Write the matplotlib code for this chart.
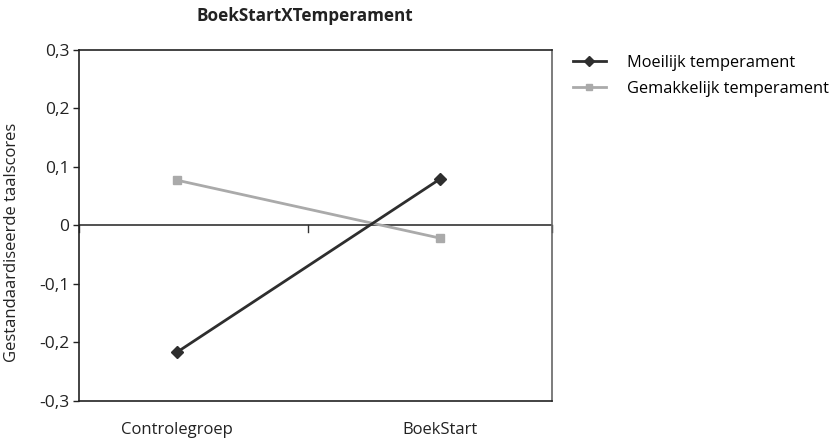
import matplotlib
matplotlib.use("Agg")
import matplotlib.pyplot as plt
from matplotlib.lines import Line2D

plt.rcParams['font.family'] = ['Open Sans', 'DejaVu Sans']

categories = ["Controlegroep", "BoekStart"]
moeilijk = [-0.217, 0.079]
gemakkelijk = [0.077, -0.022]
yticks = [-0.3, -0.2, -0.1, 0.0, 0.1, 0.2, 0.3]
ytick_labels = ["-0,3", "-0,2", "-0,1", "0", "0,1", "0,2", "0,3"]
title = "BoekStartXTemperament"
ylabel = "Gestandaardiseerde taalscores"

W, H = 836, 441
fig = plt.figure(figsize=(W / 100, H / 100), dpi=100)
ax = fig.add_axes([79 / W, 1 - 401 / H, (552 - 79) / W, (401 - 49.5) / H])

dark = "#2e2e2e"
gray = "#aaaaaa"
x = list(range(len(categories)))
ax.plot(x, moeilijk, color=dark, lw=2, marker="D", ms=6, zorder=4)
ax.plot(x, gemakkelijk, color=gray, lw=2, marker="s", ms=6, zorder=3)

ax.set_xlim(-0.371, 1.425)
ax.set_ylim(-0.3, 0.3)

# zero line with category tick marks
ax.axhline(0, color="#333333", lw=1.2, zorder=2)
for tx in [-0.371, 0.5, 1.425]:
    ax.plot([tx, tx], [0, -0.012], color="#333333", lw=1, zorder=2, clip_on=False)

ax.set_yticks(yticks)
ax.set_yticklabels(ytick_labels, fontsize=12.5, color="#222222")
ax.tick_params(axis="y", direction="out", length=4, width=1, color="#222222", pad=3)
ax.set_xticks(x)
ax.set_xticklabels(categories, fontsize=12, color="#222222")
ax.tick_params(axis="x", length=0, pad=15)

for s in ["left", "bottom", "top"]:
    ax.spines[s].set_color("#222222")
    ax.spines[s].set_linewidth(1.2)
ax.spines["right"].set_color("#666666")
ax.spines["right"].set_linewidth(1.2)

ax.set_ylabel(ylabel, fontsize=12, color="#222222")
ax.yaxis.set_label_coords((20 - 79) / (552 - 79), (401 - 242.5) / (401 - 49.5))

fig.text(305 / W, 1 - 16 / H, title, fontsize=12.3, fontweight="bold",
         ha="center", va="center", color="#222222")

handles = [Line2D([], [], color=dark, lw=2, marker="D", ms=5),
           Line2D([], [], color=gray, lw=2, marker="s", ms=5)]
fig.legend(handles, ["Moeilijk temperament", "Gemakkelijk temperament"],
           loc="upper left", bbox_to_anchor=(573 / W, 1 - 55 / H),
           frameon=False, fontsize=11.8, handlelength=2.0, handletextpad=1.3,
           labelspacing=0.6, borderaxespad=0, borderpad=0)

fig.savefig("out.png", dpi=100)
